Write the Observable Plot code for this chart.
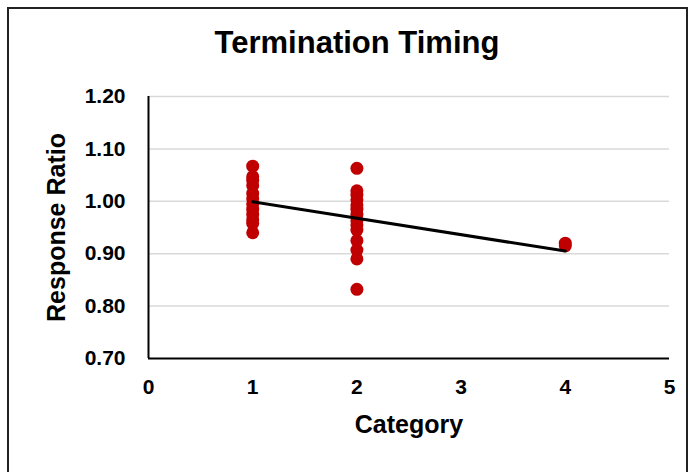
<!DOCTYPE html>
<html>
<head>
<meta charset="utf-8">
<script src="https://cdn.jsdelivr.net/npm/d3@7"></script>
<script src="https://cdn.jsdelivr.net/npm/@observablehq/plot@0.6"></script>
<style>
  body { margin: 0; background: #fff; font-family: "Liberation Sans", Arial, sans-serif; }
  #wrap { position: relative; width: 695px; height: 472px; overflow: hidden; background: #fff; }
  #frame { position: absolute; left: 7px; top: 7px; width: 681px; height: 480px; border: 2px solid #222; box-sizing: border-box; }
  #title { position: absolute; left: 0; width: 714px; top: 25px; text-align: center; font-weight: bold; font-size: 31px; color: #000; }
  #chart { position: absolute; left: 0; top: 0; }
</style>
</head>
<body>
<div id="wrap">
  <div id="frame"></div>
  <div id="title">Termination Timing</div>
  <div id="chart"></div>
</div>
<script>
const categories = [1, 2, 4];
const valuesCat1 = [1.067, 1.047, 1.040, 1.030, 1.015, 1.005, 0.995, 0.985, 0.975, 0.965, 0.958, 0.940];
const valuesCat2 = [1.063, 1.020, 1.012, 1.003, 0.993, 0.985, 0.975, 0.963, 0.955, 0.945, 0.925, 0.907, 0.890, 0.832];
const valuesCat4 = [0.920, 0.915];
const trendX = [1, 4];
const trendY = [0.999, 0.905];
const yTicks = [0.7, 0.8, 0.9, 1.0, 1.1, 1.2];
const xTicks = [0, 1, 2, 3, 4, 5];

const points = [
  ...valuesCat1.map(v => ({x: categories[0], y: v})),
  ...valuesCat2.map(v => ({x: categories[1], y: v})),
  ...valuesCat4.map(v => ({x: categories[2], y: v}))
];
const trend = trendX.map((x, i) => ({x, y: trendY[i]}));

const chart = Plot.plot({
  width: 695,
  height: 472,
  marginLeft: 148,
  marginRight: 26,
  marginTop: 96,
  marginBottom: 114,
  style: { fontFamily: "'Liberation Sans', Arial, sans-serif", background: "transparent", overflow: "visible" },
  x: { domain: [0, 5] },
  y: { domain: [0.7, 1.2] },
  marks: [
    Plot.ruleY(yTicks.slice(1), { stroke: "#d9d9d9", strokeWidth: 1.5 }),
    Plot.ruleY([0.7], { stroke: "#000", strokeWidth: 2 }),
    Plot.ruleX([0], { stroke: "#000", strokeWidth: 2 }),
    Plot.axisY({ ticks: yTicks, tickFormat: d3.format(".2f"), tickSize: 0, tickPadding: 23, fontSize: 21, fontWeight: "bold", fill: "#000",
      label: "Response Ratio", labelAnchor: "center", labelArrow: "none", labelOffset: 101 }),
    Plot.axisX({ ticks: xTicks, tickFormat: d3.format("d"), tickSize: 0, tickPadding: 21, fontSize: 21, fontWeight: "bold", fill: "#000",
      label: "Category", labelAnchor: "center", labelArrow: "none", labelOffset: 74 }),
    Plot.dot(points, { x: "x", y: "y", r: 6.5, fill: "#c00000", stroke: "none" }),
    Plot.line(trend, { x: "x", y: "y", stroke: "#000", strokeWidth: 3 })
  ]
});
chart.querySelectorAll("g[aria-label='y-axis label'] text, g[aria-label='x-axis label'] text").forEach(t => {
  t.setAttribute("font-size", "25");
  t.setAttribute("font-weight", "bold");
  t.style.fontSize = "25px";
  t.style.fontWeight = "bold";
  t.setAttribute("fill", "#000");
});
document.getElementById("chart").appendChild(chart);
</script>
</body>
</html>
